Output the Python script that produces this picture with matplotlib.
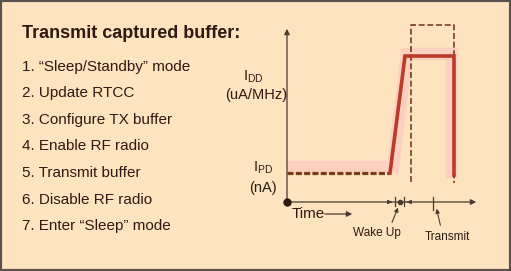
import matplotlib.pyplot as plt
from matplotlib.patches import Rectangle

# list of steps on the left
title = "Transmit captured buffer:"
steps = [
    "1. \u201cSleep/Standby\u201d mode",
    "2. Update RTCC",
    "3. Configure TX buffer",
    "4. Enable RF radio",
    "5. Transmit buffer",
    "6. Disable RF radio",
    "7. Enter \u201cSleep\u201d mode",
]

# current trace (time units / current units, origin at axes corner)
sleep_t = [0, 103]
sleep_i = [29, 29]
trace_t = [103, 118, 167, 167]
trace_i = [29, 146, 146, 27]
tail_t = [167, 167]
tail_i = [27, 19]
# highlight band behind the trace
band_t = [0, 106, 120, 165, 165]
band_i = [35, 35, 148, 148, 30]
# dashed peak box
peak_t = [124, 124, 167, 167]
peak_i = [20, 177, 177, 146]
# markers on the time axis
wake_start = 108
wake_end = 117
transmit_mark = 146

bg = "#fde4bf"
dark = "#2e1a12"
red = "#bb3b28"
brown = "#7a3c1e"
pink = "#fbd0bf"
axis_col = "#4a3a30"

plt.rcParams['font.family'] = ['Liberation Sans', 'DejaVu Sans']

fig = plt.figure(figsize=(5.11, 2.71), dpi=100)
fig.patch.set_facecolor(bg)
fig.patches.append(Rectangle((0, 0), 1, 1, transform=fig.transFigure,
                             fill=False, edgecolor="#5a5050", linewidth=3))

W, H = 511.0, 271.0
fig.text(22 / W, 1 - 33 / H, title, fontsize=13, fontweight='bold',
         color=dark, va='center', ha='left')
for k, s in enumerate(steps):
    y = 67 + k * 26.5
    fig.text(22 / W, 1 - y / H, s, fontsize=11, color=dark,
             va='center', ha='left')

# chart axes: 1 unit = 1 pixel
ax = fig.add_axes([287 / W, 69 / H, 200 / W, 180 / H])
ax.set_xlim(0, 200)
ax.set_ylim(0, 180)
ax.axis('off')

ax.plot(band_t, band_i, color=pink, lw=9, solid_joinstyle='miter', zorder=1)
ax.plot(sleep_t, sleep_i, color=brown, lw=2.3, dashes=(1.9, 0.7), zorder=3)
ax.plot(trace_t, trace_i, color=red, lw=2.6, solid_joinstyle='miter', zorder=3)
ax.plot(tail_t, tail_i, color=brown, lw=1.2, dashes=(2, 1.5), zorder=3)
ax.plot(peak_t, peak_i, color=brown, lw=1.2, dashes=(3.6, 1.6), zorder=2)

# axes arrows
arrow = dict(arrowstyle='-|>', color=axis_col, lw=0.9, mutation_scale=8)
ax.annotate("", xy=(0, 176), xytext=(0, 0), arrowprops=arrow, annotation_clip=False)
ax.annotate("", xy=(192, 0), xytext=(0, 0), arrowprops=arrow, annotation_clip=False)
ax.plot([0], [0], 'o', color=dark, ms=5, clip_on=False, zorder=5)

# wake up / transmit markers
for xm in (wake_start, wake_end):
    ax.plot([xm, xm], [-4, 5], color=axis_col, lw=0.9, clip_on=False)
ax.plot([transmit_mark, transmit_mark], [-8, 5], color=axis_col, lw=0.9, clip_on=False)
small = dict(arrowstyle='-|>', color=axis_col, lw=0.8, mutation_scale=6)
ax.annotate("", xy=(wake_start, 0), xytext=(wake_start - 7, 0), arrowprops=small, annotation_clip=False)
ax.annotate("", xy=(wake_end, 0), xytext=(wake_end + 7, 0), arrowprops=small, annotation_clip=False)
ax.plot([(wake_start + wake_end) / 2], [0], 'o', color=axis_col, ms=3, clip_on=False)

ax.text(5, -12, "Time", fontsize=11, color=dark, va='center', ha='left')
ax.annotate("", xy=(68, -12), xytext=(35, -12), arrowprops=arrow, annotation_clip=False)

ax.text(90, -31, "Wake Up", fontsize=8.5, color=dark, va='center', ha='center')
ax.text(160, -35, "Transmit", fontsize=8.5, color=dark, va='center', ha='center')
ax.annotate("", xy=(112, -3), xytext=(104, -23), arrowprops=small, annotation_clip=False)
ax.annotate("", xy=(149, -4), xytext=(154, -26), arrowprops=small, annotation_clip=False)

# current labels
ax.text(-34, 125, r"I$_\mathregular{DD}$", fontsize=10.5, color=dark, va='center', ha='center')
ax.text(-31, 107, "(uA/MHz)", fontsize=10.5, color=dark, va='center', ha='center')
ax.text(-24, 34, r"I$_\mathregular{PD}$", fontsize=10.5, color=dark, va='center', ha='center')
ax.text(-24, 14, "(nA)", fontsize=10.5, color=dark, va='center', ha='center')

fig.savefig("out.png", dpi=100, facecolor=bg)
